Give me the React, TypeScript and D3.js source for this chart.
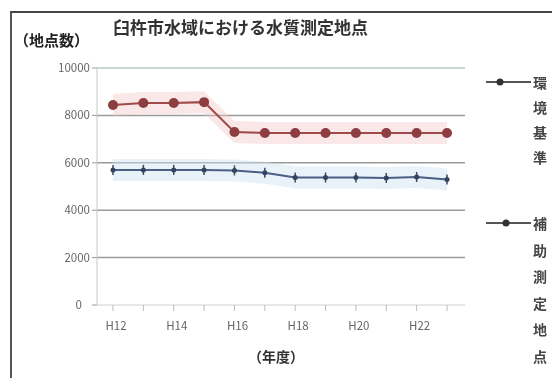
import React from "react";
import * as d3 from "d3";

const years = ["H12", "H13", "H14", "H15", "H16", "H17", "H18", "H19", "H20", "H21", "H22", "H23"];
const tickYears = ["H12", "H14", "H16", "H18", "H20", "H22"];
const redValues = [8440, 8520, 8520, 8560, 7300, 7260, 7260, 7260, 7260, 7260, 7260, 7260];
const blueValues = [5700, 5700, 5700, 5700, 5680, 5580, 5380, 5380, 5380, 5360, 5400, 5300];
const yTicks = [0, 2000, 4000, 6000, 8000, 10000];
const title = "臼杵市水域における水質測定地点";
const yLabel = "（地点数）";
const xLabel = "（年度）";
const legendRed = ["環", "境", "基", "準"];
const legendBlue = ["補", "助", "測", "定", "地", "点"];

const W = 552;
const H = 378;
const font = "'Noto Sans CJK JP', 'Noto Sans', sans-serif";

export default function App() {
  const x = d3.scalePoint<string>().domain(years).range([113, 447]);
  const y = d3.scaleLinear().domain([0, 10000]).range([305, 68]);
  const line = d3
    .line<number>()
    .x((_, i) => x(years[i]) as number)
    .y((d) => y(d));
  const band = (vals: number[], h: number) =>
    d3
      .area<number>()
      .x((_, i) => x(years[i]) as number)
      .y0((d) => y(d) - h)
      .y1((d) => y(d) + h)(vals) as string;

  return (
    <div style={{ position: "fixed", left: 0, top: 0 }}>
      <svg width={W} height={H} style={{ display: "block", background: "#fff" }} fontFamily={font}>
        <defs>
          <filter id="soft" x="-5%" y="-5%" width="110%" height="110%">
            <feGaussianBlur stdDeviation="0.6" />
          </filter>
        </defs>
        <g filter="url(#soft)">
          {/* frame */}
          <line x1={10} y1={12} x2={W} y2={12} stroke="#444" strokeWidth={2} />
          <line x1={11} y1={12} x2={11} y2={H} stroke="#555" strokeWidth={2} />

          {/* title & y label */}
          <text x={113} y={34} fontSize={17} fontWeight={700} fill="#333">
            {title}
          </text>
          <text x={14} y={46} fontSize={15} fontWeight={700} fill="#222">
            {yLabel}
          </text>

          {/* gridlines */}
          {yTicks.map((t) => (
            <g key={t}>
              <line
                x1={97}
                x2={465}
                y1={y(t)}
                y2={y(t)}
                stroke={t === 10000 ? "#b8c8c0" : t === 0 ? "#cfcfcf" : "#9a9a9a"}
                strokeWidth={t === 0 ? 1 : 1.5}
              />
              <line x1={92} x2={97} y1={y(t)} y2={y(t)} stroke="#999" />
              <text x={t === 0 ? 82 : 90} y={y(t) + 4} fontSize={11.5} textAnchor="end" fill="#666">
                {t === 0 ? "0" : `${t}`}
              </text>
            </g>
          ))}
          <line x1={97} x2={97} y1={y(10000)} y2={y(0)} stroke="#c8c8c8" />

          {/* x ticks */}
          {years.map((yr) => (
            <line key={yr} x1={x(yr)} x2={x(yr)} y1={y(0)} y2={y(0) + 6} stroke="#bbb" />
          ))}
          {tickYears.map((yr) => (
            <text key={yr} x={(x(yr) as number) + 3} y={330} fontSize={11.5} textAnchor="middle" fill="#666">
              {yr}
            </text>
          ))}
          <text x={276} y={362} fontSize={14} fontWeight={700} textAnchor="middle" fill="#333">
            {xLabel}
          </text>

          {/* bands */}
          <path d={band(redValues, 11)} fill="#f2c4c4" opacity={0.4} />
          <path d={band(blueValues, 11)} fill="#cfe3f2" opacity={0.45} />

          {/* red series */}
          <path d={line(redValues) as string} fill="none" stroke="#a04848" strokeWidth={2} />
          {redValues.map((v, i) => (
            <circle key={i} cx={x(years[i])} cy={y(v)} r={5} fill="#8e3d40" />
          ))}

          {/* blue series */}
          <path d={line(blueValues) as string} fill="none" stroke="#4a5f86" strokeWidth={2} />
          {blueValues.map((v, i) => (
            <g key={i}>
              <line x1={x(years[i])} x2={x(years[i])} y1={y(v) - 5} y2={y(v) + 5} stroke="#3a4a6e" strokeWidth={1.5} />
              <circle cx={x(years[i])} cy={y(v)} r={2.5} fill="#34425e" />
            </g>
          ))}

          {/* legend */}
          <line x1={486} x2={531} y1={82} y2={82} stroke="#555" strokeWidth={2} />
          <circle cx={500} cy={82} r={3.5} fill="#333" />
          {legendRed.map((c, i) => (
            <text key={c + i} x={533} y={88 + i * 25} fontSize={14} fontWeight={700} fill="#444">
              {c}
            </text>
          ))}
          <line x1={486} x2={531} y1={223} y2={223} stroke="#555" strokeWidth={2} />
          <circle cx={506} cy={223} r={3.5} fill="#333" />
          {legendBlue.map((c, i) => (
            <text key={c + i} x={533} y={229 + i * 26.5} fontSize={14} fontWeight={700} fill="#444">
              {c}
            </text>
          ))}
        </g>
      </svg>
    </div>
  );
}
